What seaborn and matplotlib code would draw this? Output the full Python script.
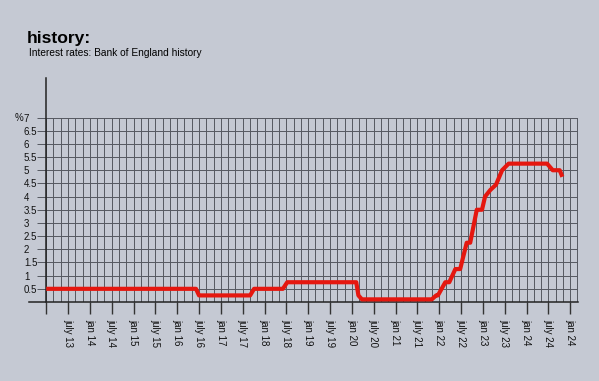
import numpy as np
import pandas as pd
import matplotlib
matplotlib.use("Agg")
import matplotlib.pyplot as plt
import seaborn as sns

# Bank of England rate (decimal year, percent)
years = [2013.0, 2016.43, 2016.50, 2017.67, 2017.76, 2018.42, 2018.52,
         2020.10, 2020.15, 2020.23, 2021.83, 2021.93, 2021.97, 2022.14,
         2022.23, 2022.37, 2022.48, 2022.63, 2022.71, 2022.86, 2022.98,
         2023.05, 2023.17, 2023.30, 2023.44, 2023.59, 2024.47, 2024.60,
         2024.76, 2024.82]
rates = [0.5, 0.5, 0.25, 0.25, 0.5, 0.5, 0.75,
         0.75, 0.25, 0.1, 0.1, 0.25, 0.25, 0.75,
         0.75, 1.25, 1.25, 2.25, 2.25, 3.5, 3.5,
         4.0, 4.25, 4.45, 5.0, 5.25, 5.25, 5.0,
         5.0, 4.75]

tick_pos = [2013.0] + list(np.arange(2013.5, 2025.01, 0.5))
tick_labels = ["", "july 13", "jan 14", "july 14", "jan 15", "july 15", "jan 16",
               "july 16", "jan 17", "july 17", "jan 18", "july 18", "jan 19",
               "july 19", "jan 20", "july 20", "jan 21", "july 21", "jan 22",
               "july 22", "jan 23", "july 23", "jan 24", "july 24", "jan 24"]
y_ticks = [0.5, 1, 1.5, 2, 2.5, 3, 3.5, 4, 4.5, 5, 5.5, 6, 6.5, 7]
y_labels = ["0.5", "1", "1.5", "2", "2.5", "3", "3.5", "4", "4.5", "5",
            "5.5", "6", "6.5", "7"]

bg = "#c5c9d3"
sns.set_style("white")
plt.rcParams["font.family"] = ["Liberation Sans", "DejaVu Sans"]

df = pd.DataFrame({"year": years, "rate": rates})

fig = plt.figure(figsize=(5.99, 3.81), dpi=100, facecolor=bg)
ax = fig.add_axes([29 / 599, 1 - 302 / 381, (577.5 - 29) / 599, (302 - 78) / 381])
ax.set_facecolor(bg)

x0, x1 = 2012.606, 2025.167
ax.set_xlim(x0, x1)
ax.set_ylim(0, 8.5)

# grid: every 2 months, every 0.5 %
grid_x = 2013 + np.arange(0, 12 * 6 + 2) / 6
ax.vlines(grid_x, 0, 7, color="#555860", lw=0.7, zorder=1)
ax.hlines(y_ticks, 2013, x1, color="#555860", lw=0.7, zorder=1)

sns.lineplot(data=df, x="year", y="rate", ax=ax, color="#e5170f", lw=3,
             solid_capstyle="butt", zorder=3)

for s in ["top", "right"]:
    ax.spines[s].set_visible(False)
ax.spines["left"].set_position(("data", 2013))
for s in ["left", "bottom"]:
    ax.spines[s].set_color("#222222")
    ax.spines[s].set_linewidth(1.1)

ax.set_xticks(tick_pos)
ax.set_xticklabels(tick_labels, rotation=270, fontsize=7, color="#111111")
ax.tick_params(axis="x", bottom=True, length=8.5, width=1, color="#333333", pad=4)

ax.set_yticks(y_ticks)
ax.set_yticklabels(y_labels, fontsize=7, color="#111111", ha="left")
ax.tick_params(axis="y", left=True, length=6.5, width=0.7, color="#555860", pad=9.5)
ax.set_xlabel("")
ax.set_ylabel("")

fig.text(15 / 599, 1 - 118 / 381, "%", fontsize=7, va="center", color="#111111")
fig.text(27 / 599, 1 - 43 / 381, "history:", fontsize=12.6, fontweight="bold",
         va="baseline", color="#000000")
fig.text(29 / 599, 1 - 56 / 381, "Interest rates: Bank of England history",
         fontsize=7.3, va="baseline", color="#000000")

fig.savefig("out.png", dpi=100, facecolor=bg)
